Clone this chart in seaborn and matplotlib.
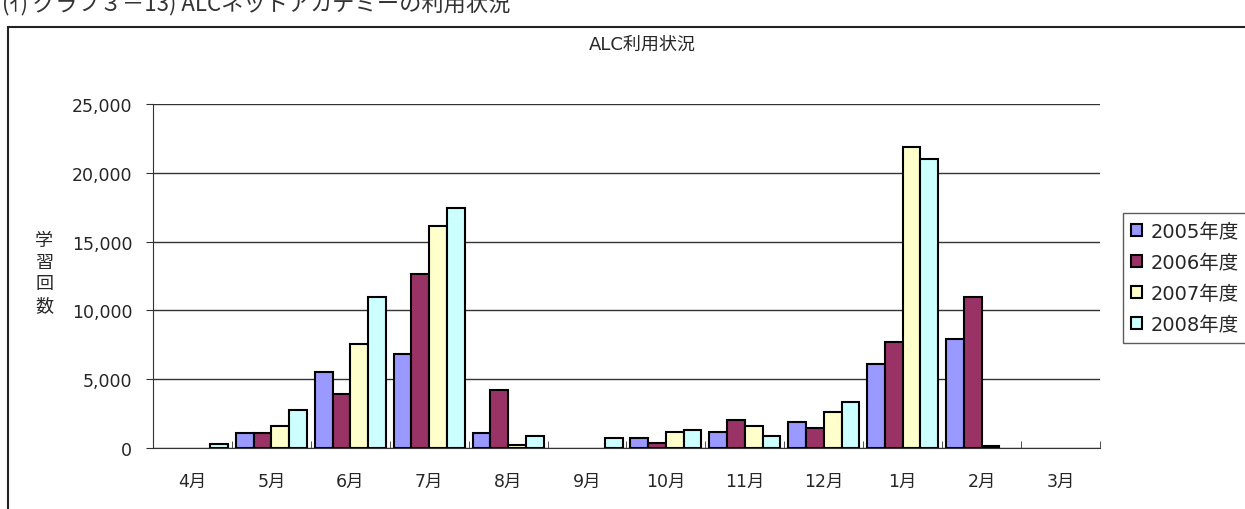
import numpy as np
import pandas as pd
import matplotlib
matplotlib.use("Agg")
import matplotlib.pyplot as plt
import seaborn as sns
from matplotlib.patches import Rectangle, Patch

# Data
months = ["4月", "5月", "6月", "7月", "8月", "9月", "10月", "11月", "12月", "1月", "2月", "3月"]
years = ["2005年度", "2006年度", "2007年度", "2008年度"]
y2005 = [0, 1100, 5500, 6850, 1100, 0, 750, 1140, 1870, 6100, 7900, 0]
y2006 = [0, 1100, 3900, 12650, 4200, 0, 400, 2040, 1480, 7700, 11000, 0]
y2007 = [0, 1600, 7550, 16100, 250, 0, 1140, 1580, 2600, 21900, 150, 0]
y2008 = [270, 2750, 11000, 17450, 870, 750, 1300, 870, 3350, 21000, 0, 0]
colors = ["#9999FF", "#993366", "#FFFFCC", "#CCFFFF"]

rows = []
for yr, vals in zip(years, [y2005, y2006, y2007, y2008]):
    for m, v in zip(months, vals):
        rows.append({"month": m, "year": yr, "count": v})
df = pd.DataFrame(rows)

sns.set_style("white")
plt.rcParams["font.family"] = ["DejaVu Sans", "Noto Sans CJK JP"]

fig = plt.figure(figsize=(12.45, 5.10), dpi=100)
ax = fig.add_axes([0.1229, 0.1196, 0.7606, 0.6745])

sns.barplot(data=df, x="month", y="count", hue="year", order=months,
            hue_order=years, palette=colors, saturation=1, width=0.9, gap=0,
            edgecolor="black", linewidth=1.5, ax=ax, legend=False)

# empty months show no bar at all
for p in ax.patches:
    if p.get_height() == 0:
        p.set_visible(False)

ax.set_ylim(0, 25000)
ax.set_xlim(-0.5, 11.5)
ax.set_yticks(range(0, 25001, 5000))
ax.set_yticklabels([f"{v:,}" for v in range(0, 25001, 5000)], fontsize=12.5)
ax.yaxis.grid(True, color="#333333", linewidth=1)
ax.set_axisbelow(True)
for s in ["top", "right"]:
    ax.spines[s].set_visible(False)
ax.spines["left"].set_color("#333333")
ax.spines["bottom"].set_color("#333333")
ax.tick_params(axis="y", direction="out", length=5, color="#333333", left=True, pad=10)

# category boundaries as small inward ticks
ax.set_xticks(np.arange(-0.5, 12, 1), minor=True)
ax.tick_params(axis="x", which="minor", direction="in", length=5, color="#333333", bottom=True)
ax.tick_params(axis="x", which="major", length=0, pad=17, labelsize=12.5)
ax.set_xlabel("")
ax.set_ylabel("学\n習\n回\n数", rotation=0, fontsize=13, linespacing=1.25,
              va="center", labelpad=20)
ax.yaxis.set_label_coords(-0.115, 0.51)

handles = [Patch(facecolor=c, edgecolor="black", linewidth=1.5) for c in colors]
leg = ax.legend(handles, years, loc="upper left", bbox_to_anchor=(1.024, 0.683),
                frameon=True, fontsize=14, handlelength=0.55, handleheight=0.55,
                handletextpad=0.45, labelspacing=0.62, borderpad=0.45, borderaxespad=0,
                fancybox=False, edgecolor="#333333")
leg.get_frame().set_linewidth(1)

fig.text(642 / 1245, 1 - 45 / 510, "ALC利用状況", ha="center", va="center", fontsize=13)

# chart area frame (cut by image edges)
fig.patches.append(Rectangle((8 / 1245, -0.1), 1.2, 1 - 28 / 510 + 0.1,
                             transform=fig.transFigure, fill=False,
                             edgecolor="#222222", linewidth=1.5, clip_on=False))

# caption above the chart, partly cut off at the top edge as in the source
fig.text(0.002, 0.993, "(ｲ) グラフ３－13) ALCネットアカデミーの利用状況",
         ha="left", va="center", fontsize=16,
         family=["Noto Sans CJK JP", "DejaVu Sans"], color="#333333")

fig.savefig("out.png", dpi=100)
